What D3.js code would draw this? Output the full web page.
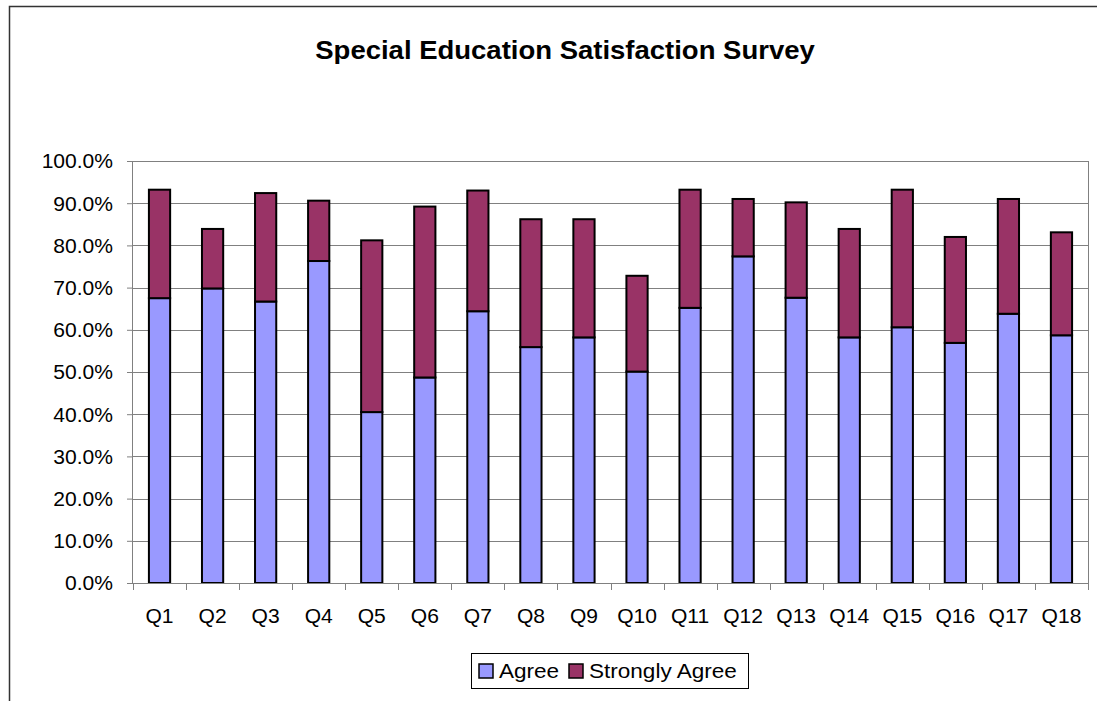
<!DOCTYPE html>
<html>
<head>
<meta charset="utf-8">
<script src="https://cdn.jsdelivr.net/npm/d3@7"></script>
<style>
  body { margin: 0; background: #fff; }
  svg { display: block; font-family: "Liberation Sans", Arial, sans-serif; }
</style>
</head>
<body>
<svg id="chart"></svg>
<script>
const questions = ['Q1','Q2','Q3','Q4','Q5','Q6','Q7','Q8','Q9','Q10','Q11','Q12','Q13','Q14','Q15','Q16','Q17','Q18'];
const agree = [67.5, 69.8, 66.7, 76.3, 40.5, 48.7, 64.4, 55.9, 58.2, 50.1, 65.2, 77.4, 67.6, 58.2, 60.6, 56.9, 63.8, 58.7];
const stronglyAgree = [25.7, 14.1, 25.7, 14.3, 40.7, 40.5, 28.6, 30.3, 28.0, 22.7, 28.0, 13.6, 22.6, 25.7, 32.6, 25.1, 27.2, 24.4];
const seriesNames = ['Agree', 'Strongly Agree'];
const seriesColors = ['#9999FF', '#993366'];
const yTicks = [0, 10, 20, 30, 40, 50, 60, 70, 80, 90, 100];

const W = 1097, H = 701;
const margin = { top: 161, right: 9, bottom: 118, left: 133 };
const width = W - margin.left - margin.right;
const height = H - margin.top - margin.bottom;
const stretch = 1.08; // the original text is a bit wider than Arial

const svg = d3.select('#chart').attr('width', W).attr('height', H);

// outer chart frame
svg.append('rect')
    .attr('x', 9.5).attr('y', 6.5)
    .attr('width', W + 20).attr('height', H + 20)
    .attr('fill', '#fff').attr('stroke', '#333').attr('stroke-width', 1.5);

svg.append('text')
    .attr('transform', 'translate(565,59) scale(1.1,1)')
    .attr('text-anchor', 'middle')
    .style('font-size', '25px').style('font-weight', 'bold')
    .text('Special Education Satisfaction Survey');

const g = svg.append('g').attr('transform', `translate(${margin.left},${margin.top})`);

const x = d3.scaleBand().domain(questions).range([0, width]).paddingInner(0.6).paddingOuter(0.3);
const xEdge = d3.scaleLinear().domain([0, questions.length]).range([0, width]);
const y = d3.scaleLinear().domain([0, 100]).range([height, 0]);

// gridlines
g.selectAll('.grid').data(yTicks.slice(1)).enter().append('line')
    .attr('x1', 0).attr('x2', width)
    .attr('y1', d => Math.round(y(d)) + 0.5).attr('y2', d => Math.round(y(d)) + 0.5)
    .attr('stroke', '#808080').attr('stroke-width', 1);

// plot border (right side)
g.append('line').attr('x1', width + 0.5).attr('x2', width + 0.5).attr('y1', y(100)).attr('y2', height)
    .attr('stroke', '#808080');

const rows = questions.map((q, i) => ({ q, Agree: agree[i], 'Strongly Agree': stronglyAgree[i] }));
const stacked = d3.stack().keys(seriesNames)(rows);

g.selectAll('.series').data(stacked).enter().append('g')
    .attr('fill', (d, i) => seriesColors[i])
    .selectAll('rect').data(d => d).enter().append('rect')
    .attr('x', d => x(d.data.q))
    .attr('y', d => y(d[1]))
    .attr('width', x.bandwidth())
    .attr('height', d => y(d[0]) - y(d[1]))
    .attr('stroke', '#000').attr('stroke-width', 2);

// y axis
const yAxis = g.append('g')
    .call(d3.axisLeft(y).tickValues(yTicks).tickSize(6).tickFormat(d => d.toFixed(1) + '%'));
yAxis.select('.domain').attr('stroke', '#808080').attr('d', `M-0.5,0V${height}`);
yAxis.selectAll('.tick line').attr('stroke', '#808080');
yAxis.selectAll('.tick text')
    .style('font-size', '19.5px').attr('fill', '#000')
    .attr('x', -18.5).attr('dy', '0.35em')
    .attr('transform', `scale(${stretch},1)`);

// x axis
const xAxis = g.append('g').attr('transform', `translate(0,${height})`);
xAxis.append('line').attr('x1', -6).attr('x2', width).attr('y1', 0.5).attr('y2', 0.5).attr('stroke', '#808080');
xAxis.selectAll('.xtick').data(d3.range(questions.length + 1)).enter().append('line')
    .attr('x1', d => Math.round(xEdge(d)) + 0.5).attr('x2', d => Math.round(xEdge(d)) + 0.5)
    .attr('y1', 0).attr('y2', 7).attr('stroke', '#808080');
xAxis.selectAll('.xlabel').data(questions).enter().append('text')
    .attr('transform', d => `translate(${x(d) + x.bandwidth() / 2},40) scale(${stretch},1)`)
    .attr('text-anchor', 'middle')
    .style('font-size', '19.5px')
    .text(d => d);

// legend
const legend = svg.append('g');
legend.append('rect')
    .attr('x', 471.5).attr('y', 653.5).attr('width', 277).attr('height', 35)
    .attr('fill', '#fff').attr('stroke', '#000').attr('stroke-width', 1);
const legendX = [479, 569];
seriesNames.forEach((name, i) => {
    legend.append('rect')
        .attr('x', legendX[i]).attr('y', 664).attr('width', 14).attr('height', 14)
        .attr('fill', seriesColors[i]).attr('stroke', '#000').attr('stroke-width', 1.5);
    legend.append('text')
        .attr('transform', `translate(${legendX[i] + 20},678) scale(1.1,1)`)
        .style('font-size', '20.5px')
        .text(name);
});
</script>
</body>
</html>
